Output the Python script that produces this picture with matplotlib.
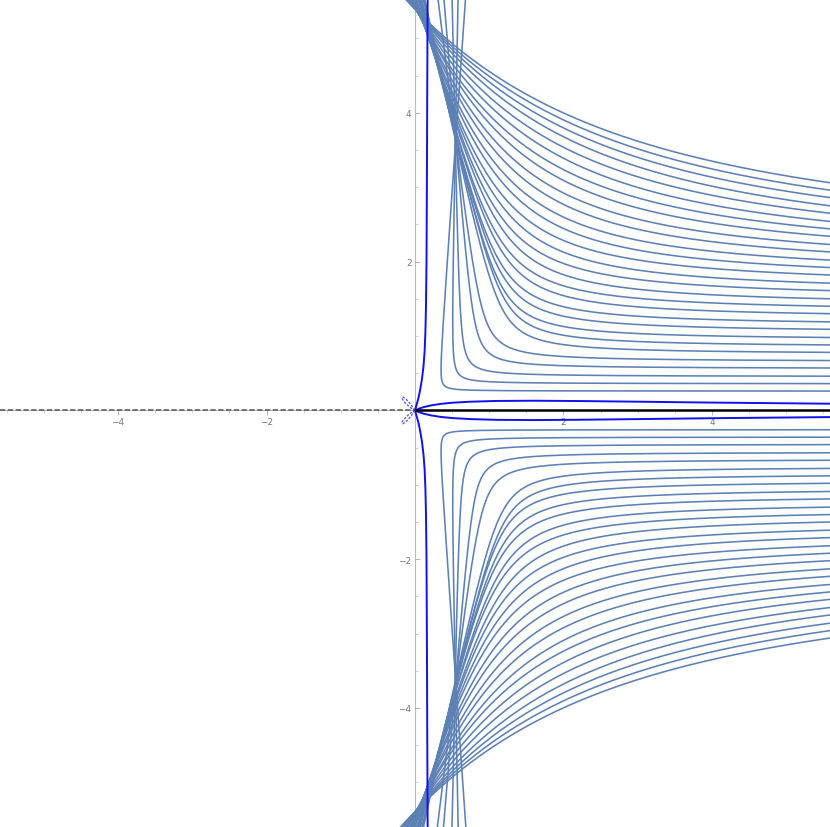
import numpy as np
import matplotlib
matplotlib.use("Agg")
import matplotlib.pyplot as plt
from matplotlib.ticker import FixedLocator, NullFormatter

# ---- data (upper half; lower half is its mirror) ----
# height of each thin curve where it leaves the right edge
Y_RIGHT = [0.26, 0.36, 0.46, 0.57, 0.67, 0.78, 0.88, 0.98, 1.09, 1.19, 1.30,
           1.40, 1.50, 1.61, 1.71, 1.82, 1.92, 2.02, 2.13, 2.23, 2.34, 2.44,
           2.54, 2.65, 2.75, 2.86, 2.96, 3.06]
# x where each thin curve leaves the top edge
X_TOP = [0.68, 0.58, 0.50, 0.39, 0.31, 0.13, 0.12, 0.11, 0.09, 0.08, 0.07,
         0.06, 0.05, 0.04, 0.02, 0.01, 0.00, -0.01, -0.02, -0.03, -0.04,
         -0.06, -0.07, -0.08, -0.09, -0.10, -0.12, -0.13]
# far slope (dx/dy) of the upper branch of each curve
SLOPE = [0.07, 0.02, -0.02, -0.08, -0.12, -0.21, -0.22, -0.22, -0.23, -0.23,
         -0.24, -0.24, -0.25, -0.25, -0.26, -0.26, -0.27, -0.27, -0.28, -0.28,
         -0.29, -0.29, -0.30, -0.30, -0.31, -0.31, -0.32, -0.32]
# roundness of the bend of each curve
BEND = [0.006, 0.015, 0.03, 0.05, 0.08, 0.12, 0.15, 0.18, 0.22, 0.27, 0.33,
        0.40, 0.49, 0.60, 0.73, 0.89, 1.08, 1.32, 1.60, 1.95, 2.37, 2.89,
        3.51, 4.27, 5.20, 6.00, 6.90, 7.70]

# thick blue separatrix (upper half)
SEP_UP_X = [0.0, 0.02, 0.045, 0.07, 0.095, 0.115, 0.13, 0.14, 0.148, 0.155, 0.16, 0.165, 0.17]
SEP_UP_Y = [0.0, 0.07, 0.16, 0.28, 0.43, 0.60, 0.80, 1.05, 1.40, 2.00, 3.00, 4.30, 5.60]
SEP_RT_X = [0.0, 0.05, 0.12, 0.22, 0.35, 0.50, 0.75, 1.10, 1.60, 2.20, 3.00, 4.00, 5.60]
SEP_RT_Y = [0.0, 0.022, 0.045, 0.068, 0.088, 0.103, 0.117, 0.127, 0.130, 0.126, 0.117, 0.105, 0.090]

# small dashed loop near the origin (upper one)
LOOP_X = [0.0, -0.035, -0.07, -0.105, -0.14, -0.165, -0.175, -0.17, -0.15, -0.115, -0.08, -0.04, 0.0]
LOOP_Y = [0.0, 0.05, 0.095, 0.135, 0.165, 0.18, 0.17, 0.15, 0.12, 0.085, 0.052, 0.022, 0.0]

XLIM = (-5.59, 5.59)
YLIM = (-5.60, 5.53)
MAJOR = [-4, -2, 2, 4]

THIN = "#5E81B5"
BLUE = "#1010F0"


def curve_points(yr, xtop, s, e, ytop=YLIM[1], xr=XLIM[1]):
    """Hyperbola-like branch x(y) = xt + s (y - ytop) + e / (y - b)
    through (xr, yr) and (xtop, ytop)."""
    def f(b):
        return xtop + s * (yr - ytop) + e / (yr - b) - e / (ytop - b) - xr
    lo, hi = yr - 50.0, yr - 1e-12
    for _ in range(200):
        mid = 0.5 * (lo + hi)
        if f(mid) > 0:
            hi = mid
        else:
            lo = mid
    b = 0.5 * (lo + hi)
    xt = xtop - e / (ytop - b)
    u = np.linspace(np.log((yr - b) * 0.6), np.log(ytop + 0.2 - b), 4000)
    y = b + np.exp(u)
    x = xt + s * (y - ytop) + e / (y - b)
    return x, y


fig = plt.figure(figsize=(8.30, 8.28), dpi=100)
ax = fig.add_axes([0, 0, 1, 1])
ax.set_xlim(*XLIM)
ax.set_ylim(*YLIM)

for yr, xtp, s, e in zip(Y_RIGHT, X_TOP, SLOPE, BEND):
    x, y = curve_points(yr, xtp, s, e)
    ax.plot(x, y, color=THIN, lw=1.15, zorder=3, solid_capstyle="butt")
    ax.plot(x, -y, color=THIN, lw=1.15, zorder=3, solid_capstyle="butt")

for sx, sy in ((SEP_UP_X, SEP_UP_Y), (SEP_RT_X, SEP_RT_Y)):
    sx = np.array(sx); sy = np.array(sy)
    ax.plot(sx, sy, color=BLUE, lw=1.4, zorder=4)
    ax.plot(sx, -sy, color=BLUE, lw=1.4, zorder=4)

lx = np.array(LOOP_X); ly = np.array(LOOP_Y)
ax.plot(lx, ly, color="#5050F0", lw=0.9, ls=(0, (2.0, 1.2)), zorder=4)
ax.plot(lx, -ly, color="#5050F0", lw=0.9, ls=(0, (2.0, 1.2)), zorder=4)

# real axis: solid black for x>0, dashed grey for x<0
ax.plot([0, XLIM[1]], [0, 0], color="black", lw=1.8, zorder=5, solid_capstyle="butt")
ax.plot([XLIM[0], 0], [0, 0], color="#555555", lw=1.1, ls=(0, (3.5, 1.6)), zorder=5)

# Mathematica-like axes through the origin
for side in ("top", "right"):
    ax.spines[side].set_visible(False)
ax.spines["left"].set_position(("data", 0))
ax.spines["bottom"].set_position(("data", 0))
ax.spines["left"].set_color("#bbbbbb")
ax.spines["bottom"].set_color("#bbbbbb")
ax.spines["left"].set_linewidth(0.8)
ax.spines["bottom"].set_linewidth(0.8)
ax.spines["left"].set_zorder(1)
ax.spines["bottom"].set_zorder(1)
ax.xaxis.set_major_locator(FixedLocator(MAJOR))
ax.yaxis.set_major_locator(FixedLocator(MAJOR))
minor = np.arange(-5.5, 5.51, 0.5)
ax.xaxis.set_minor_locator(FixedLocator(minor))
ax.yaxis.set_minor_locator(FixedLocator(minor))
ax.xaxis.set_minor_formatter(NullFormatter())
ax.yaxis.set_minor_formatter(NullFormatter())
ax.tick_params(axis="x", which="major", direction="out", length=3.5, width=0.6,
               color="#aaaaaa", labelsize=6.5, labelcolor="#777777", pad=1.5)
ax.tick_params(axis="x", which="minor", direction="out", length=2, width=0.5, color="#bbbbbb")
ax.tick_params(axis="y", which="major", direction="in", length=3.5, width=0.6,
               color="#aaaaaa", labelsize=6.5, labelcolor="#777777", pad=2.5)
ax.tick_params(axis="y", which="minor", direction="in", length=2, width=0.5, color="#bbbbbb")

fig.savefig("out.png", dpi=100)
